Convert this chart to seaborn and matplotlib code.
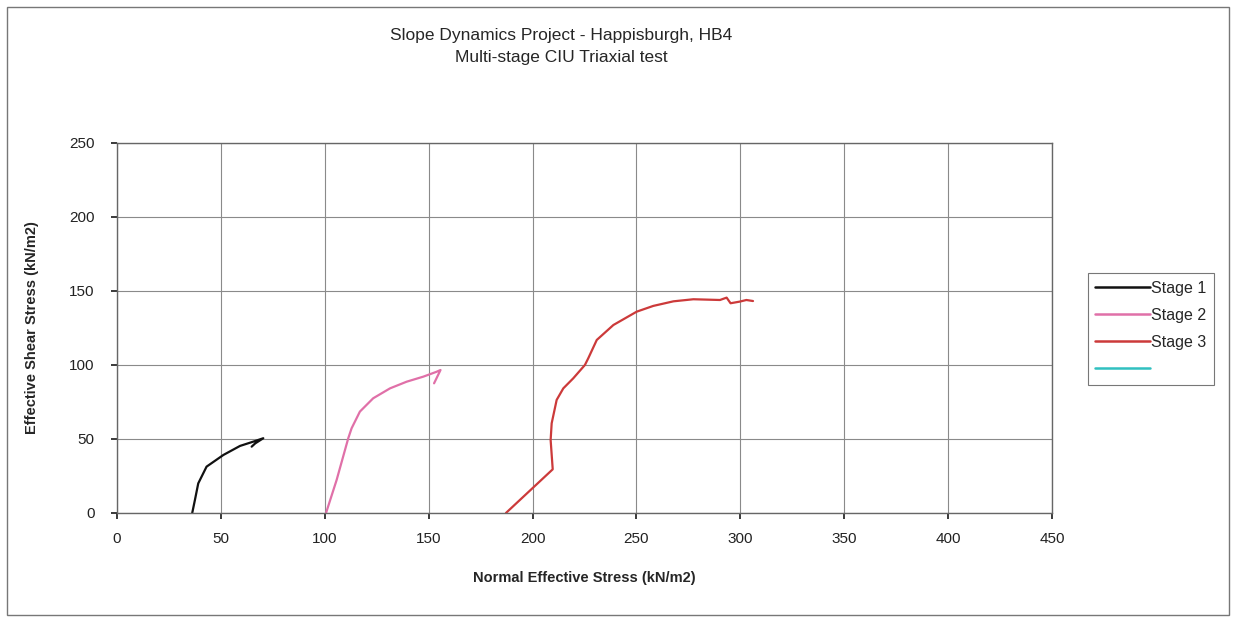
import numpy as np
import pandas as pd
import matplotlib
matplotlib.use("Agg")
import matplotlib.pyplot as plt
from matplotlib.lines import Line2D
from matplotlib.patches import Rectangle
import seaborn as sns

# Stress paths for each consolidation stage (kN/m2)
stage1_p = [36.2, 37.5, 39.1, 43.1, 51.2, 59.2, 65.6, 70.4, 66.5, 64.8]
stage1_q = [0.0, 8.8, 20.0, 31.3, 39.2, 45.3, 48.2, 50.5, 47.0, 44.8]

stage2_p = [100.6, 105.7, 111.3, 112.9, 116.9, 123.3, 131.4, 139.4, 147.4, 153.8, 155.7, 152.6]
stage2_q = [0.0, 22.3, 50.5, 57.2, 68.5, 77.5, 84.2, 88.7, 92.1, 95.4, 96.6, 87.6]

stage3_p = [187.2, 209.7, 208.7, 209.2, 211.6, 214.8, 219.6, 225.2, 226.8, 230.9, 238.9,
            250.1, 258.1, 267.8, 277.4, 290.2, 293.4, 295.3, 299.7, 302.9, 306.1]
stage3_q = [0.0, 29.5, 49.3, 60.6, 76.4, 84.2, 91.0, 100.0, 104.5, 116.9, 127.0,
            136.0, 139.9, 143.0, 144.4, 143.9, 145.5, 141.7, 142.8, 143.9, 143.2]

stage_names = ["Stage 1", "Stage 2", "Stage 3"]
stage_colors = ["#111111", "#e070a8", "#cc3a3a"]
extra_color = "#30c0c0"

x_ticks = [0, 50, 100, 150, 200, 250, 300, 350, 400, 450]
y_ticks = [0, 50, 100, 150, 200, 250]

frames = []
for name, p, q in zip(stage_names, [stage1_p, stage2_p, stage3_p],
                      [stage1_q, stage2_q, stage3_q]):
    frames.append(pd.DataFrame({"p": p, "q": q, "stage": name,
                                "order": np.arange(len(p))}))
df = pd.concat(frames, ignore_index=True)

sns.set_theme(style="white")
plt.rcParams["font.family"] = ["Liberation Sans", "DejaVu Sans"]

fig = plt.figure(figsize=(12.33, 6.17), dpi=100)
ax = fig.add_axes([0.0949, 0.1686, 0.7583, 0.5997])

for name, col in zip(stage_names, stage_colors):
    sub = df[df["stage"] == name]
    sns.lineplot(data=sub, x="p", y="q", sort=False, estimator=None,
                 color=col, linewidth=1.6, ax=ax, legend=False)

ax.set_xlim(0, 450)
ax.set_ylim(0, 250)
ax.set_xticks(x_ticks)
ax.set_yticks(y_ticks)
ax.tick_params(axis="both", labelsize=11, colors="#222222", length=4,
               direction="out", bottom=True, left=True)
ax.tick_params(axis="x", pad=10)
ax.tick_params(axis="y", pad=12)
ax.grid(True, color="#8a8a8a", linewidth=0.8)
for s in ax.spines.values():
    s.set_color("#666666")
    s.set_linewidth(1.0)

ax.set_xlabel("Normal Effective Stress (kN/m2)", fontsize=10.5,
              fontweight="bold", labelpad=18)
ax.set_ylabel("Effective Shear Stress (kN/m2)", fontsize=10.5,
              fontweight="bold", labelpad=22)

fig.text(0.455, 0.943, "Slope Dynamics Project - Happisburgh, HB4",
         ha="center", va="center", fontsize=12.5)
fig.text(0.455, 0.907, "Multi-stage CIU Triaxial test",
         ha="center", va="center", fontsize=12.5)

handles = [Line2D([0], [0], color=c, linewidth=1.8) for c in stage_colors]
handles.append(Line2D([0], [0], color=extra_color, linewidth=1.8))
labels = stage_names + [""]
leg = fig.legend(handles, labels, loc="center left",
                 bbox_to_anchor=(0.882, 0.467), fontsize=11.5,
                 frameon=True, fancybox=False, handlelength=3.4,
                 handletextpad=0.05, labelspacing=0.75, borderpad=0.5,
                 borderaxespad=0)
leg.get_frame().set_edgecolor("#555555")
leg.get_frame().set_linewidth(0.8)

# outer chart border
fig.patches.append(Rectangle((0.006, 0.003), 0.991, 0.985,
                             transform=fig.transFigure, fill=False,
                             edgecolor="#777777", linewidth=1.0))

fig.savefig("out.png", dpi=100, facecolor="white")
